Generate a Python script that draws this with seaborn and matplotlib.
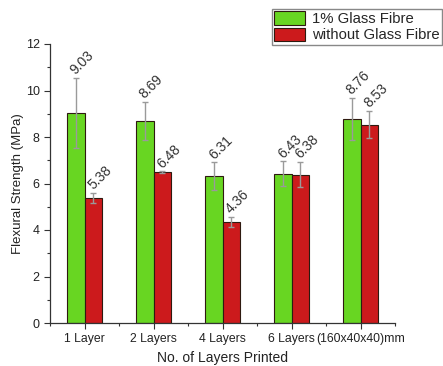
import matplotlib
matplotlib.use("Agg")
import matplotlib.pyplot as plt
from matplotlib.ticker import AutoMinorLocator, FixedLocator
import numpy as np
import pandas as pd
import seaborn as sns

categories = ["1 Layer", "2 Layers", "4 Layers", "6 Layers", "(160x40x40)mm"]
series = ["1% Glass Fibre", "without Glass Fibre"]
with_fibre = [9.03, 8.69, 6.31, 6.43, 8.76]
without_fibre = [5.38, 6.48, 4.36, 6.38, 8.53]
with_fibre_err = [1.50, 0.82, 0.60, 0.52, 0.91]
without_fibre_err = [0.23, 0.04, 0.22, 0.55, 0.58]
colors = ["#68d622", "#cc1a1c"]

sns.set_theme(style="ticks")
plt.rcParams["font.family"] = ["Liberation Sans", "DejaVu Sans"]

df = pd.DataFrame({
    "layers": categories * 2,
    "group": [series[0]] * len(categories) + [series[1]] * len(categories),
    "strength": with_fibre + without_fibre,
})
errs = {series[0]: with_fibre_err, series[1]: without_fibre_err}
vals = {series[0]: with_fibre, series[1]: without_fibre}

fig = plt.figure(figsize=(4.43, 3.66), dpi=100)
ax = fig.add_axes([50 / 443, 1 - 323 / 366, 345 / 443, 279 / 366])

sns.barplot(data=df, x="layers", y="strength", hue="group", order=categories,
            hue_order=series, palette=colors, width=0.5, errorbar=None,
            edgecolor="#2e1a10", linewidth=0.8, saturation=1, ax=ax, legend=False)

for container, name in zip(ax.containers, series):
    xs = [p.get_x() + p.get_width() / 2 for p in container.patches]
    ys = vals[name]
    ax.errorbar(xs, ys, yerr=errs[name], fmt="none", ecolor="#9a9a9a",
                elinewidth=1.0, capsize=2.5, capthick=1.0, zorder=3)
    for x, y, e in zip(xs, ys, errs[name]):
        ax.annotate(f"{y:.2f}", (x, y + e), xytext=(1.5, 0.5), textcoords="offset points",
                    rotation=45, ha="left", va="bottom", fontsize=10,
                    color="#333333", rotation_mode="anchor")

ax.set_xlim(-0.5, 4.5)
ax.set_ylim(0, 12)
ax.set_yticks([0, 2, 4, 6, 8, 10, 12])
ax.yaxis.set_minor_locator(AutoMinorLocator(2))
ax.xaxis.set_minor_locator(FixedLocator(np.arange(-0.5, 4.6, 1.0)))
ax.tick_params(axis="both", which="major", length=4, width=0.8, color="#333333",
               labelsize=9, labelcolor="#222222")
ax.tick_params(axis="both", which="minor", length=2.5, width=0.8, color="#333333")
ax.tick_params(axis="x", pad=3, labelsize=8.8)
sns.despine(ax=ax)
for s in ("left", "bottom"):
    ax.spines[s].set_color("#333333")
    ax.spines[s].set_linewidth(0.9)

ax.set_xlabel("No. of Layers Printed", fontsize=10, color="#222222", labelpad=4.5)
ax.set_ylabel("Flexural Strength (MPa)", fontsize=9.5, color="#222222", labelpad=1)

handles = [plt.Rectangle((0, 0), 1, 1, facecolor=c, edgecolor="#2e1a10", linewidth=0.8)
           for c in colors]
fig.legend(handles, series, loc="upper right", bbox_to_anchor=(442 / 443, 1 - 9 / 366),
           fontsize=10.7, frameon=True, fancybox=False, edgecolor="#888888",
           framealpha=1, borderpad=0.15, labelspacing=0.12, handlelength=2.1,
           handleheight=1.0, handletextpad=0.45, borderaxespad=0)

fig.savefig("out.png", dpi=100)
